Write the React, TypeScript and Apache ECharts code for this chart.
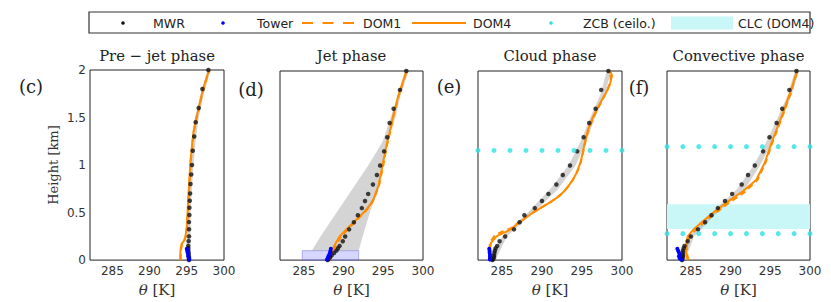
import React, { useEffect, useRef } from "react";
import * as echarts from "echarts";

// ---------- data ----------
const panelTitles = ["Pre \u2212 jet phase", "Jet phase", "Cloud phase", "Convective phase"];
const panelLetters = ["(c)", "(d)", "(e)", "(f)"];
const yTicks = [0, 0.5, 1, 1.5, 2];
const xTicks = [285, 290, 295, 300];

// MWR retrieval levels (km)
const mwrHeights = [0, 0.01, 0.03, 0.05, 0.075, 0.1, 0.125, 0.15, 0.2, 0.25, 0.325, 0.4, 0.475, 0.55, 0.625, 0.7, 0.8, 0.9, 1.0, 1.15, 1.3, 1.45, 1.6, 1.8, 2.0];
const mwrPre = [295.3, 295.3, 295.3, 295.25, 295.25, 295.2, 295.2, 295.2, 295.25, 295.3, 295.3, 295.3, 295.35, 295.35, 295.4, 295.45, 295.5, 295.6, 295.7, 295.8, 296.0, 296.2, 296.6, 297.1, 297.9];
const mwrJet = [288.0, 288.1, 288.3, 288.5, 288.8, 289.1, 289.3, 289.5, 289.9, 290.2, 290.7, 291.3, 291.8, 292.3, 292.7, 293.1, 293.7, 294.2, 294.6, 295.1, 295.5, 295.8, 296.3, 297.1, 297.9];
const mwrCloud = [283.8, 283.9, 284.0, 284.0, 284.05, 284.1, 284.2, 284.4, 284.7, 285.4, 286.5, 287.2, 287.8, 289.1, 290.0, 290.8, 291.8, 292.6, 293.5, 294.4, 295.2, 295.9, 296.7, 297.4, 298.3];
const mwrConv = [283.9, 283.9, 284.0, 284.0, 284.0, 284.0, 284.1, 284.2, 284.6, 285.0, 285.9, 286.8, 287.6, 288.4, 289.3, 290.2, 291.4, 292.2, 293.05, 294.1, 294.9, 295.8, 296.5, 297.4, 298.3];

// Tower levels (km)
const towerHeights = [0.005, 0.02, 0.04, 0.06, 0.08, 0.1, 0.12];
const towerPre = [295.3, 295.3, 295.2, 295.2, 295.1, 295.05, 295.0];
const towerJet = [287.9, 288.0, 288.1, 288.2, 288.3, 288.35, 288.4];
const towerCloud = [283.5, 283.5, 283.5, 283.5, 283.45, 283.45, 283.4];
const towerConv = [283.8, 283.6, 283.5, 283.6, 283.5, 283.4, 283.3];

// DOM4 profiles [theta, height]
const dom4Pre = [[294.1, 0], [294.15, 0.1], [294.3, 0.17], [294.6, 0.2], [294.8, 0.24], [295.0, 0.35], [295.1, 0.5], [295.2, 0.65], [295.35, 0.85], [295.5, 1.05], [295.7, 1.2], [295.9, 1.35], [296.2, 1.47], [296.6, 1.6], [297.0, 1.74], [297.45, 1.87], [298.0, 2.0]];
const dom4Jet = [[288.3, 0], [288.5, 0.08], [288.8, 0.15], [289.5, 0.25], [290.4, 0.33], [291.5, 0.42], [292.5, 0.5], [293.3, 0.58], [293.8, 0.65], [294.4, 0.79], [294.9, 1.0], [295.4, 1.21], [295.8, 1.35], [296.25, 1.53], [296.9, 1.74], [297.9, 2.0]];
const dom4Cloud = [[283.5, 0], [283.5, 0.1], [283.6, 0.18], [284.3, 0.25], [285.0, 0.28], [286.0, 0.32], [287.2, 0.4], [288.5, 0.48], [289.8, 0.55], [291.0, 0.61], [292.2, 0.68], [293.0, 0.75], [293.8, 0.84], [294.3, 0.92], [294.8, 1.03], [295.1, 1.14], [295.4, 1.26], [295.75, 1.38], [296.4, 1.52], [297.2, 1.65], [298.0, 1.77], [298.5, 1.86], [298.75, 1.95], [298.5, 2.0]];
const dom4Conv = [[284.6, 0], [284.4, 0.08], [284.4, 0.15], [284.6, 0.25], [285.3, 0.32], [286.5, 0.41], [287.8, 0.5], [289.5, 0.61], [291.6, 0.73], [293.25, 0.85], [294.3, 1.03], [295.15, 1.24], [295.8, 1.38], [296.6, 1.56], [297.5, 1.77], [298.3, 1.98], [298.4, 2.0]];

// DOM1 profiles [theta, height]
const dom1Pre = [[294.2, 0], [294.2, 0.1], [294.4, 0.17], [294.7, 0.21], [294.9, 0.26], [295.05, 0.36], [295.15, 0.5], [295.25, 0.65], [295.4, 0.85], [295.55, 1.05], [295.75, 1.2], [295.95, 1.35], [296.25, 1.47], [296.65, 1.6], [297.05, 1.74], [297.5, 1.87], [298.05, 2.0]];
const dom1Jet = [[288.3, 0], [288.6, 0.08], [289.0, 0.15], [289.7, 0.25], [290.6, 0.33], [291.6, 0.42], [292.6, 0.5], [293.4, 0.58], [293.9, 0.66], [294.5, 0.8], [295.0, 1.0], [295.45, 1.21], [295.85, 1.35], [296.3, 1.53], [296.95, 1.74], [297.95, 2.0]];
const dom1Cloud = [[283.4, 0], [283.4, 0.1], [283.5, 0.19], [284.1, 0.26], [285.0, 0.3], [286.2, 0.34], [287.4, 0.42], [288.8, 0.5], [290.0, 0.56], [291.2, 0.62], [292.4, 0.7], [293.3, 0.78], [294.0, 0.87], [294.5, 0.95], [294.9, 1.05], [295.2, 1.16], [295.5, 1.28], [295.9, 1.4], [296.6, 1.54], [297.4, 1.67], [298.2, 1.8], [298.6, 1.9], [298.5, 2.0]];
const dom1Conv = [[284.7, 0], [284.5, 0.08], [284.5, 0.15], [284.8, 0.24], [285.5, 0.31], [286.7, 0.4], [288.0, 0.49], [289.7, 0.6], [291.8, 0.72], [293.4, 0.85], [294.4, 1.03], [295.25, 1.24], [295.9, 1.38], [296.7, 1.56], [297.6, 1.77], [298.4, 2.0]];

// grey spread band (lo / hi theta at heights)
const bandPreH = [0, 0.25, 0.5, 0.75, 1, 1.25, 1.5, 1.75, 2];
const bandPreLo = [294.9, 295.0, 295.1, 295.2, 295.4, 295.6, 296.1, 296.9, 297.8];
const bandPreHi = [295.5, 295.5, 295.5, 295.7, 295.9, 296.2, 296.6, 297.3, 298.2];
const bandJetH = [0.1, 0.25, 0.5, 0.75, 1.0, 1.25, 1.5, 1.75, 2.0];
const bandJetLo = [286.0, 287.1, 289.1, 291.1, 293.1, 294.9, 295.9, 296.9, 297.8];
const bandJetHi = [291.9, 292.4, 293.3, 294.4, 295.0, 295.5, 296.5, 297.2, 298.2];
const bandCloudH = [0, 0.25, 0.5, 0.75, 1.0, 1.25, 1.5, 1.75, 2.0];
const bandCloudLo = [283.6, 285.0, 288.2, 291.0, 293.3, 294.8, 296.0, 297.3, 298.1];
const bandCloudHi = [284.2, 285.6, 288.9, 292.0, 294.2, 295.5, 296.6, 297.9, 298.6];
const bandConvH = [0, 0.25, 0.5, 0.75, 1.0, 1.25, 1.5, 1.75, 2.0];
const bandConvLo = [283.8, 284.8, 287.6, 290.8, 292.9, 294.5, 295.9, 297.2, 298.1];
const bandConvHi = [284.3, 285.4, 288.3, 291.8, 293.7, 295.2, 296.5, 297.7, 298.6];

// tower spread box in jet phase [thetaMin, thetaMax, heightTop]
const towerBoxJet = [284.8, 291.9, 0.1];

// ceilometer cloud base heights (km) and dot positions
const zcbThetas = [282, 284, 286, 288, 290, 292, 294, 296, 298, 300];
const zcbPre: number[] = [];
const zcbJet: number[] = [];
const zcbCloud = [1.16];
const zcbConv = [1.2, 0.28];

// cloud layer (DOM4) in convective phase [bottom, top] km
const clcConv = [0.33, 0.59];

// ---------- layout ----------
const grids = [
  { left: 90, top: 70, width: 134, height: 191 },
  { left: 280, top: 71, width: 143, height: 190 },
  { left: 478, top: 71, width: 144, height: 190 },
  { left: 667, top: 71, width: 143, height: 190 },
];

const ORANGE = "#ff8c00";
const CYAN = "#2ee0e0";
const SERIF = "DejaVu Serif";
const SANS = "DejaVu Sans";

const panels = [
  { mwr: mwrPre, tower: towerPre, dom4: dom4Pre, dom1: dom1Pre, bH: bandPreH, bLo: bandPreLo, bHi: bandPreHi, zcb: zcbPre, clc: null as number[] | null, box: null as number[] | null },
  { mwr: mwrJet, tower: towerJet, dom4: dom4Jet, dom1: dom1Jet, bH: bandJetH, bLo: bandJetLo, bHi: bandJetHi, zcb: zcbJet, clc: null, box: towerBoxJet },
  { mwr: mwrCloud, tower: towerCloud, dom4: dom4Cloud, dom1: dom1Cloud, bH: bandCloudH, bLo: bandCloudLo, bHi: bandCloudHi, zcb: zcbCloud, clc: null, box: null },
  { mwr: mwrConv, tower: towerConv, dom4: dom4Conv, dom1: dom1Conv, bH: bandConvH, bLo: bandConvLo, bHi: bandConvHi, zcb: zcbConv, clc: clcConv, box: null },
];

function buildOption() {
  const series: any[] = [];
  panels.forEach((p, i) => {
    const bH = p.bH, bLo = p.bLo, bHi = p.bHi;
    const band: any = {
      type: "custom",
      xAxisIndex: i,
      yAxisIndex: i,
      silent: true,
      z: 1,
      data: [[bLo[0], bH[0]]],
      renderItem: (_params: any, api: any) => {
        const pts: number[][] = [];
        for (let k = 0; k < bH.length; k++) pts.push(api.coord([bLo[k], bH[k]]));
        for (let k = bH.length - 1; k >= 0; k--) pts.push(api.coord([bHi[k], bH[k]]));
        return { type: "polygon", shape: { points: pts }, style: { fill: "rgba(160,160,160,0.45)" } };
      },
    };
    if (p.clc) {
      band.markArea = {
        silent: true,
        itemStyle: { color: "#c9f6f6" },
        data: [[{ yAxis: p.clc[0] }, { yAxis: p.clc[1] }]],
      };
    }
    series.push(band);
    series.push({
      type: "line",
      xAxisIndex: i,
      yAxisIndex: i,
      data: p.dom1,
      showSymbol: false,
      z: 3,
      lineStyle: { color: ORANGE, width: 2, type: [6, 4] },
    });
    series.push({
      type: "line",
      xAxisIndex: i,
      yAxisIndex: i,
      data: p.dom4,
      showSymbol: false,
      z: 4,
      lineStyle: { color: ORANGE, width: 2 },
    });
    series.push({
      type: "scatter",
      xAxisIndex: i,
      yAxisIndex: i,
      data: p.mwr.map((t, k) => [t, mwrHeights[k]]),
      symbolSize: 4.5,
      z: 5,
      itemStyle: { color: "#111" },
    });
    const tower: any = {
      type: "line",
      xAxisIndex: i,
      yAxisIndex: i,
      data: p.tower.map((t, k) => [t, towerHeights[k]]),
      symbol: "circle",
      symbolSize: 4,
      showSymbol: true,
      z: 6,
      lineStyle: { color: "#0000ff", width: 2 },
      itemStyle: { color: "#0000ff" },
    };
    if (p.box) {
      tower.markArea = {
        silent: true,
        itemStyle: { color: "rgba(120,120,255,0.3)", borderColor: "rgba(110,110,230,0.5)", borderWidth: 1 },
        data: [[{ coord: [p.box[0], 0] }, { coord: [p.box[1], p.box[2]] }]],
      };
    }
    series.push(tower);
    const zdata: number[][] = [];
    p.zcb.forEach((h) => zcbThetas.forEach((t) => zdata.push([t, h])));
    if (zdata.length) {
      series.push({
        type: "scatter",
        xAxisIndex: i,
        yAxisIndex: i,
        data: zdata,
        symbolSize: 5,
        clip: false,
        z: 7,
        itemStyle: { color: CYAN },
      });
    }
  });

  const xAxis = grids.map((_, i) => ({
    type: "value",
    gridIndex: i,
    min: 282,
    max: 300,
    interval: 1,
    axisLine: { show: false },
    axisTick: { show: false },
    splitLine: { show: false },
    axisLabel: {
      interval: 0,
      margin: 5,
      color: "#333",
      fontFamily: SANS,
      fontSize: 12,
      formatter: (v: number) => (xTicks.indexOf(v) >= 0 ? String(v) : ""),
    },
    name: "{i|\u03b8} [K]",
    nameLocation: "middle",
    nameGap: 18,
    nameTextStyle: {
      fontFamily: SERIF,
      fontSize: 15,
      color: "#333",
      rich: { i: { fontFamily: SERIF, fontStyle: "italic", fontSize: 15, color: "#333" } },
    },
  }));

  const yAxis = grids.map((_, i) => ({
    type: "value",
    gridIndex: i,
    min: 0,
    max: 2,
    interval: 0.5,
    axisLine: { show: false },
    axisTick: { show: false },
    splitLine: { show: false },
    axisLabel: {
      show: i === 0,
      margin: 4,
      color: "#333",
      fontFamily: SANS,
      fontSize: 12,
      formatter: (v: number) => (yTicks.indexOf(v) >= 0 ? String(v) : ""),
    },
    name: i === 0 ? "Height [km]" : "",
    nameLocation: "middle",
    nameGap: 30,
    nameTextStyle: { fontFamily: SERIF, fontSize: 13, color: "#333" },
  }));

  const graphic: any[] = [];
  // titles and panel letters
  grids.forEach((g, i) => {
    graphic.push({
      type: "text",
      x: g.left + g.width / 2,
      y: 55,
      style: { text: panelTitles[i], font: `14.8px "${SERIF}"`, fill: "#222", align: "center", verticalAlign: "middle" },
    });
  });
  const letterPos = [[31, 86], [251, 89], [449, 86], [639, 87]];
  letterPos.forEach((pos, i) => {
    graphic.push({
      type: "text",
      x: pos[0],
      y: pos[1],
      style: { text: panelLetters[i], font: `18px "${SERIF}"`, fill: "#222", align: "center", verticalAlign: "middle" },
    });
  });
  // legend
  const ly = 23;
  const lfont = `12.5px "${SANS}"`;
  graphic.push({ type: "rect", shape: { x: 89, y: 12, width: 721, height: 21 }, style: { fill: "#fff", stroke: "#333", lineWidth: 1.2 } });
  graphic.push({ type: "circle", shape: { cx: 123, cy: ly, r: 1.8 }, style: { fill: "#111" } });
  graphic.push({ type: "text", x: 153, y: ly, style: { text: "MWR", font: lfont, fill: "#222", verticalAlign: "middle" } });
  graphic.push({ type: "circle", shape: { cx: 223, cy: ly, r: 1.8 }, style: { fill: "#0000ff" } });
  graphic.push({ type: "text", x: 257, y: ly, style: { text: "Tower", font: lfont, fill: "#222", verticalAlign: "middle" } });
  graphic.push({ type: "line", shape: { x1: 302, y1: ly, x2: 358, y2: ly }, style: { stroke: ORANGE, lineWidth: 2, lineDash: [11, 9.5] } });
  graphic.push({ type: "text", x: 363, y: ly, style: { text: "DOM1", font: lfont, fill: "#222", verticalAlign: "middle" } });
  graphic.push({ type: "line", shape: { x1: 412, y1: ly, x2: 466, y2: ly }, style: { stroke: ORANGE, lineWidth: 2 } });
  graphic.push({ type: "text", x: 473, y: ly, style: { text: "DOM4", font: lfont, fill: "#222", verticalAlign: "middle" } });
  graphic.push({ type: "circle", shape: { cx: 551, cy: ly, r: 1.8 }, style: { fill: CYAN } });
  graphic.push({ type: "text", x: 583, y: ly, style: { text: "ZCB (ceilo.)", font: lfont, fill: "#222", verticalAlign: "middle" } });
  graphic.push({ type: "rect", shape: { x: 671, y: 16.5, width: 62, height: 13 }, style: { fill: "#c9f6f6" } });
  graphic.push({ type: "text", x: 738, y: ly, style: { text: "CLC (DOM4)", font: lfont, fill: "#222", verticalAlign: "middle" } });

  return {
    animation: false,
    backgroundColor: "#fff",
    grid: grids.map((g) => ({ ...g, show: true, borderColor: "#222", borderWidth: 1, backgroundColor: "transparent" })),
    xAxis,
    yAxis,
    series,
    graphic,
  };
}

export default function App() {
  const ref = useRef<HTMLDivElement>(null);
  useEffect(() => {
    if (!ref.current) return;
    const chart = echarts.init(ref.current, null, { renderer: "svg" });
    chart.setOption(buildOption() as any);
    return () => chart.dispose();
  }, []);
  return <div ref={ref} style={{ position: "absolute", left: 0, top: 0, width: 831, height: 302 }} />;
}
